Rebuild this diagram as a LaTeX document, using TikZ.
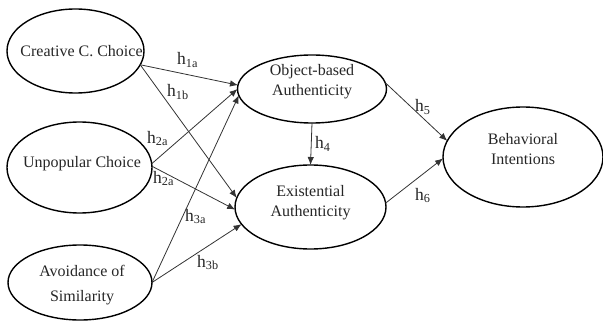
\documentclass[tikz,border=0pt]{standalone}
\usepackage{fontspec}
\setmainfont{Liberation Serif}
\usetikzlibrary{arrows.meta,shapes.geometric}
\newcommand\zb[3][0pt]{\makebox[0pt]{\hspace*{#3}\raisebox{#1}[0pt][0pt]{\begin{tabular}{@{}c@{}}#2\end{tabular}}}}
\tikzset{
  construct/.style={draw=black, line width=1.4pt, ellipse, inner sep=0pt, outer sep=0pt,
    font=\fontsize{16}{20}\selectfont, text=black!85},
  conn/.style={draw=black!80, line width=0.8pt, -{Latex[length=8pt,width=6.5pt]}},
  hyp/.style={anchor=base west, inner sep=0pt, font=\fontsize{17.5}{20}\selectfont, text=black!85}
}
\begin{document}
\begin{tikzpicture}[x=1pt,y=-1pt]
\useasboundingbox (0,0) rectangle (603,321);
\node[construct, minimum width=137pt, minimum height=84pt] (ccc) at (75.5,51) {\zb[-6pt]{Creative C. Choice}{12pt}};
\node[construct, minimum width=145pt, minimum height=91pt] (upc) at (79.5,167.5) {\zb[0pt]{Unpopular Choice}{5pt}};
\node[construct, minimum width=144pt, minimum height=75pt] (aos) at (80,282.5) {\zb[-7pt]{Avoidance of\\[5pt] Similarity}{4pt}};
\node[construct, minimum width=149pt, minimum height=68pt] (oba) at (312,89) {\zb[3pt]{Object-based\\ Authenticity}{0pt}};
\node[construct, minimum width=151pt, minimum height=84pt] (exa) at (310.5,207) {\zb[0.5pt]{Existential\\ Authenticity}{0pt}};
\node[construct, minimum width=160pt, minimum height=100pt] (bhi) at (523,157) {\zb[2pt]{Behavioral\\ Intentions}{0pt}};

\draw[conn] (ccc.348) -- (oba.177);
\draw[conn] (ccc.348) -- (exa.173);
\draw[conn] (upc.3) -- (oba.180);
\draw[conn] (upc.1) -- (exa.182);
\draw[conn] (aos.0) -- (oba.185);
\draw[conn] (aos.0) -- (exa.194);
\draw[conn] (oba.south) -- (exa.north);
\draw[conn] (oba.5) -- (bhi.168);
\draw[conn] (exa.3) -- (bhi.181);

\node[hyp] (l1a) at (177,65) {h\textsubscript{1a}};
\node[hyp] (l1b) at (167,97) {h\textsubscript{1b}};
\node[hyp] (l2a) at (147,143) {h\textsubscript{2a}};
\node[hyp] (l2b) at (153,183) {h\textsubscript{2a}};
\node[hyp] (l3a) at (185,221) {h\textsubscript{3a}};
\node[hyp] (l3b) at (197,267) {h\textsubscript{3b}};
\node[hyp] (l4) at (315,149) {h\textsubscript{4}};
\node[hyp] (l5) at (415,112) {h\textsubscript{5}};
\node[hyp] (l6) at (415,200) {h\textsubscript{6}};
\end{tikzpicture}
\end{document}
